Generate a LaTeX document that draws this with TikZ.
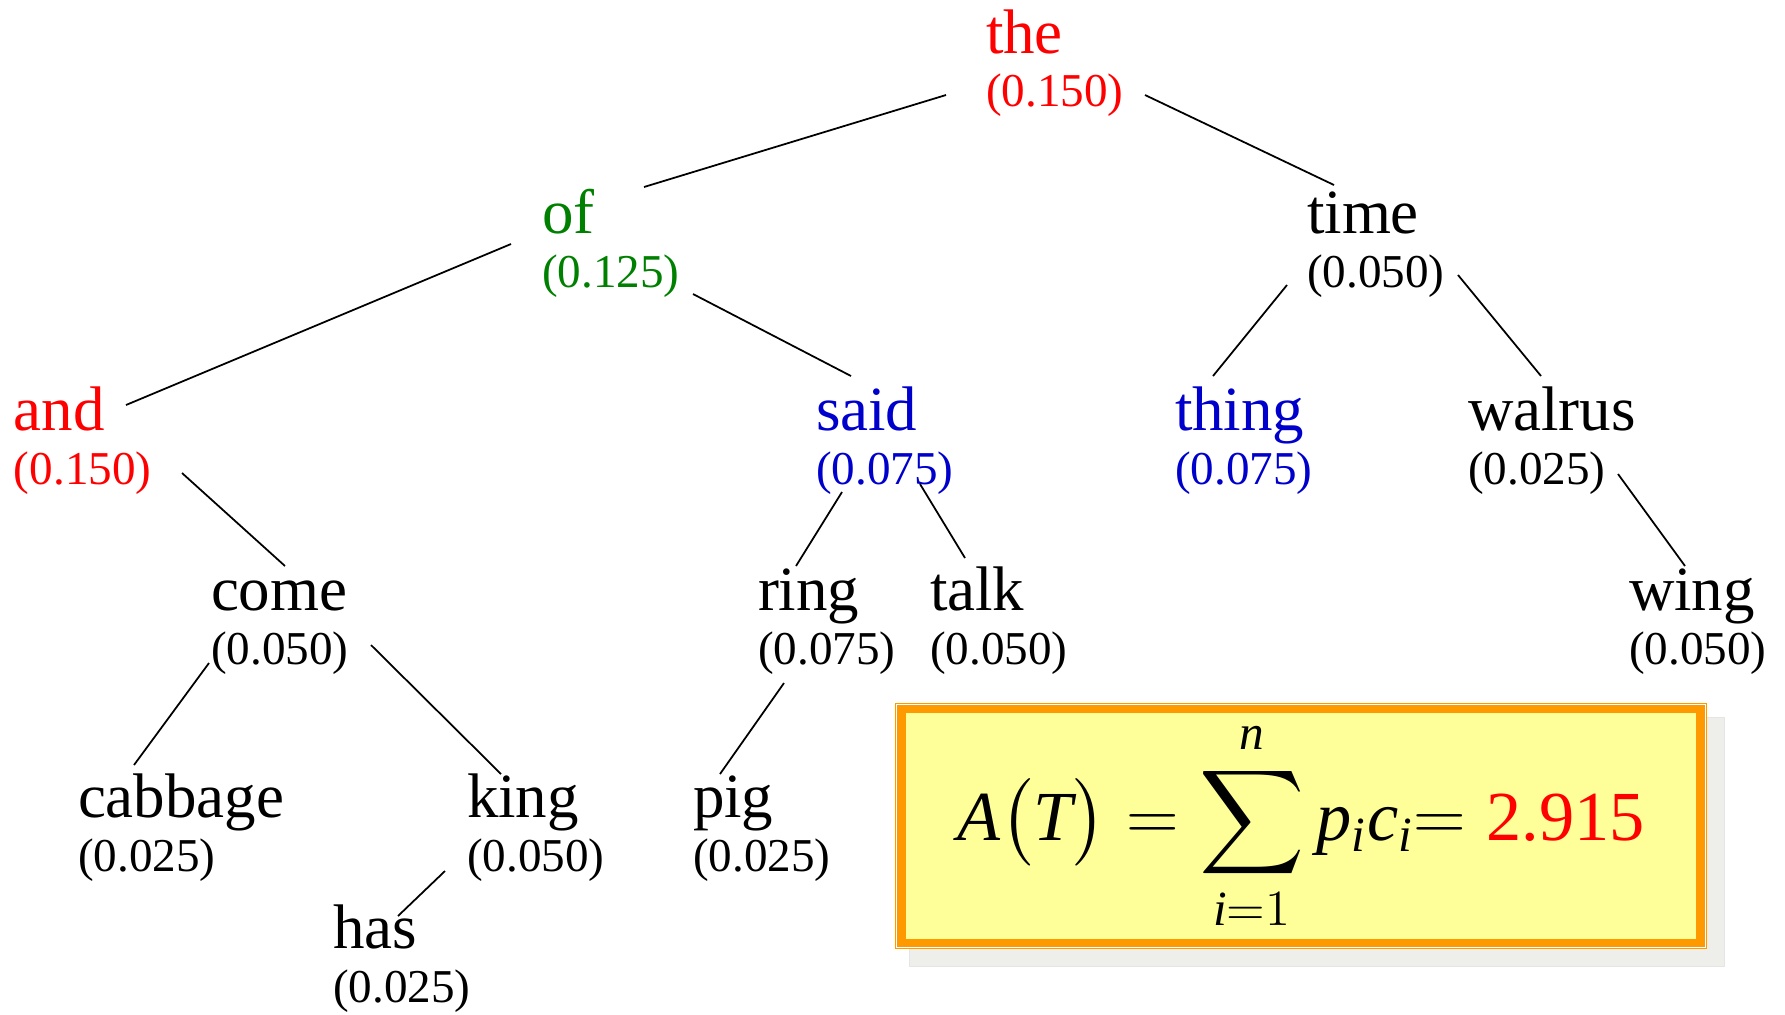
\documentclass[tikz,border=0pt]{standalone}
\usepackage{exscale}
\usepackage{fontspec}
\setmainfont{Liberation Serif}
\usetikzlibrary{calc,backgrounds}
\definecolor{wordred}{RGB}{255,0,0}
\definecolor{wordgreen}{RGB}{0,128,0}
\definecolor{wordblue}{RGB}{0,0,204}
\definecolor{boxorange}{RGB}{255,153,0}
\definecolor{boxyellow}{RGB}{255,255,153}
\definecolor{shadowgrey}{RGB}{238,238,235}

\begin{document}
\begin{tikzpicture}[x=0.01cm, y=-0.01cm,
    word/.style={anchor=base west, inner sep=0pt, outer sep=0pt,
                 font=\fontsize{17.9pt}{20pt}\selectfont},
    prob/.style={anchor=base west, inner sep=0pt, outer sep=0pt,
                 font=\fontsize{13.4pt}{15pt}\selectfont},
    treeline/.style={line width=0.5pt},
    formulabox/.style={draw=boxorange, line width=2.3pt, fill=boxyellow,
                 inner sep=0pt, outer sep=0pt, minimum width=7.985cm,
                 minimum height=2.33cm, font=\fontsize{20pt}{24pt}\selectfont}]
    \useasboundingbox (0,0) rectangle (1785,1014);

    % level 0
    \node[word, text=wordred] (the) at (986,53) {the};
    \node[prob, text=wordred] (the-p) at (986,106) {(0.150)};
    % level 1
    \node[word, text=wordgreen] (of) at (542,233) {of};
    \node[prob, text=wordgreen] (of-p) at (542,287) {(0.125)};
    \node[word] (time) at (1307,233) {time};
    \node[prob] (time-p) at (1307,287) {(0.050)};
    % level 2
    \node[word, text=wordred] (and) at (14,430) {and};
    \node[prob, text=wordred] (and-p) at (14,484) {(0.150)};
    \node[word, text=wordblue] (said) at (816,430) {said};
    \node[prob, text=wordblue] (said-p) at (816,484) {(0.075)};
    \node[word, text=wordblue] (thing) at (1175,430) {thing};
    \node[prob, text=wordblue] (thing-p) at (1175,484) {(0.075)};
    \node[word] (walrus) at (1468,430) {walrus};
    \node[prob] (walrus-p) at (1468,484) {(0.025)};
    % level 3
    \node[word] (come) at (211,610) {come};
    \node[prob] (come-p) at (211,664) {(0.050)};
    \node[word] (ring) at (758,610) {ring};
    \node[prob] (ring-p) at (758,664) {(0.075)};
    \node[word] (talk) at (930,610) {talk};
    \node[prob] (talk-p) at (930,664) {(0.050)};
    \node[word] (wing) at (1629,610) {wing};
    \node[prob] (wing-p) at (1629,664) {(0.050)};
    % level 4
    \node[word] (cabbage) at (78,817) {cabbage};
    \node[prob] (cabbage-p) at (78,871) {(0.025)};
    \node[word] (king) at (467,817) {king};
    \node[prob] (king-p) at (467,871) {(0.050)};
    \node[word] (pig) at (693,817) {pig};
    \node[prob] (pig-p) at (693,871) {(0.025)};
    % level 5
    \node[word] (has) at (333,948) {has};
    \node[prob] (has-p) at (333,1002) {(0.025)};

    % branches
    \draw[treeline] ([shift={(-40,-11)}]the-p.base west) -- ([shift={(102,-46)}]of.base west);
    \draw[treeline] ([shift={(159,-11)}]the-p.base west) -- ([shift={(27,-48)}]time.base west);
    \draw[treeline] ([shift={(-31,11)}]of.base west) -- ([shift={(112,-25)}]and.base west);
    \draw[treeline] ([shift={(151,7)}]of-p.base west) -- ([shift={(35,-54)}]said.base west);
    \draw[treeline] ([shift={(168,-11)}]and-p.base west) -- ([shift={(74,-44)}]come.base west);
    \draw[treeline] ([shift={(26,8)}]said-p.base west) -- ([shift={(38,-44)}]ring.base west);
    \draw[treeline] ([shift={(104,0)}]said-p.base west) -- ([shift={(35,-52)}]talk.base west);
    \draw[treeline] ([shift={(-20,-2)}]time-p.base west) -- ([shift={(38,-54)}]thing.base west);
    \draw[treeline] ([shift={(151,-12)}]time-p.base west) -- ([shift={(73,-54)}]walrus.base west);
    \draw[treeline] ([shift={(150,-10)}]walrus-p.base west) -- ([shift={(56,-44)}]wing.base west);
    \draw[treeline] ([shift={(-2,-1)}]come-p.base west) -- ([shift={(56,-52)}]cabbage.base west);
    \draw[treeline] ([shift={(160,-19)}]come-p.base west) -- ([shift={(34,-43)}]king.base west);
    \draw[treeline] ([shift={(26,19)}]ring-p.base west) -- ([shift={(27,-43)}]pig.base west);
    \draw[treeline] ([shift={(-22,0)}]king-p.base west) -- ([shift={(65,-32)}]has.base west);

    % average cost box
    \node[formulabox] (avg) at (1301,826)
        {$\mathit{A}\bigl(\mathit{T}\bigr) = \displaystyle\sum_{\mathit{i}=1}^{\mathit{n}}
          \mathit{p}_{\mathit{i}}\mathit{c}_{\mathit{i}}{=}\;\mbox{\color{wordred}2.915}$};
    \begin{scope}[on background layer]
        \draw[gray!20, fill=shadowgrey] ([shift={(8,8)}]avg.north west) rectangle ([shift={(24,24)}]avg.south east);
        \draw[boxorange, line width=0.45pt, fill=white] ([shift={(-6,-6)}]avg.north west) rectangle ([shift={(6,6)}]avg.south east);
    \end{scope}
\end{tikzpicture}
\end{document}
